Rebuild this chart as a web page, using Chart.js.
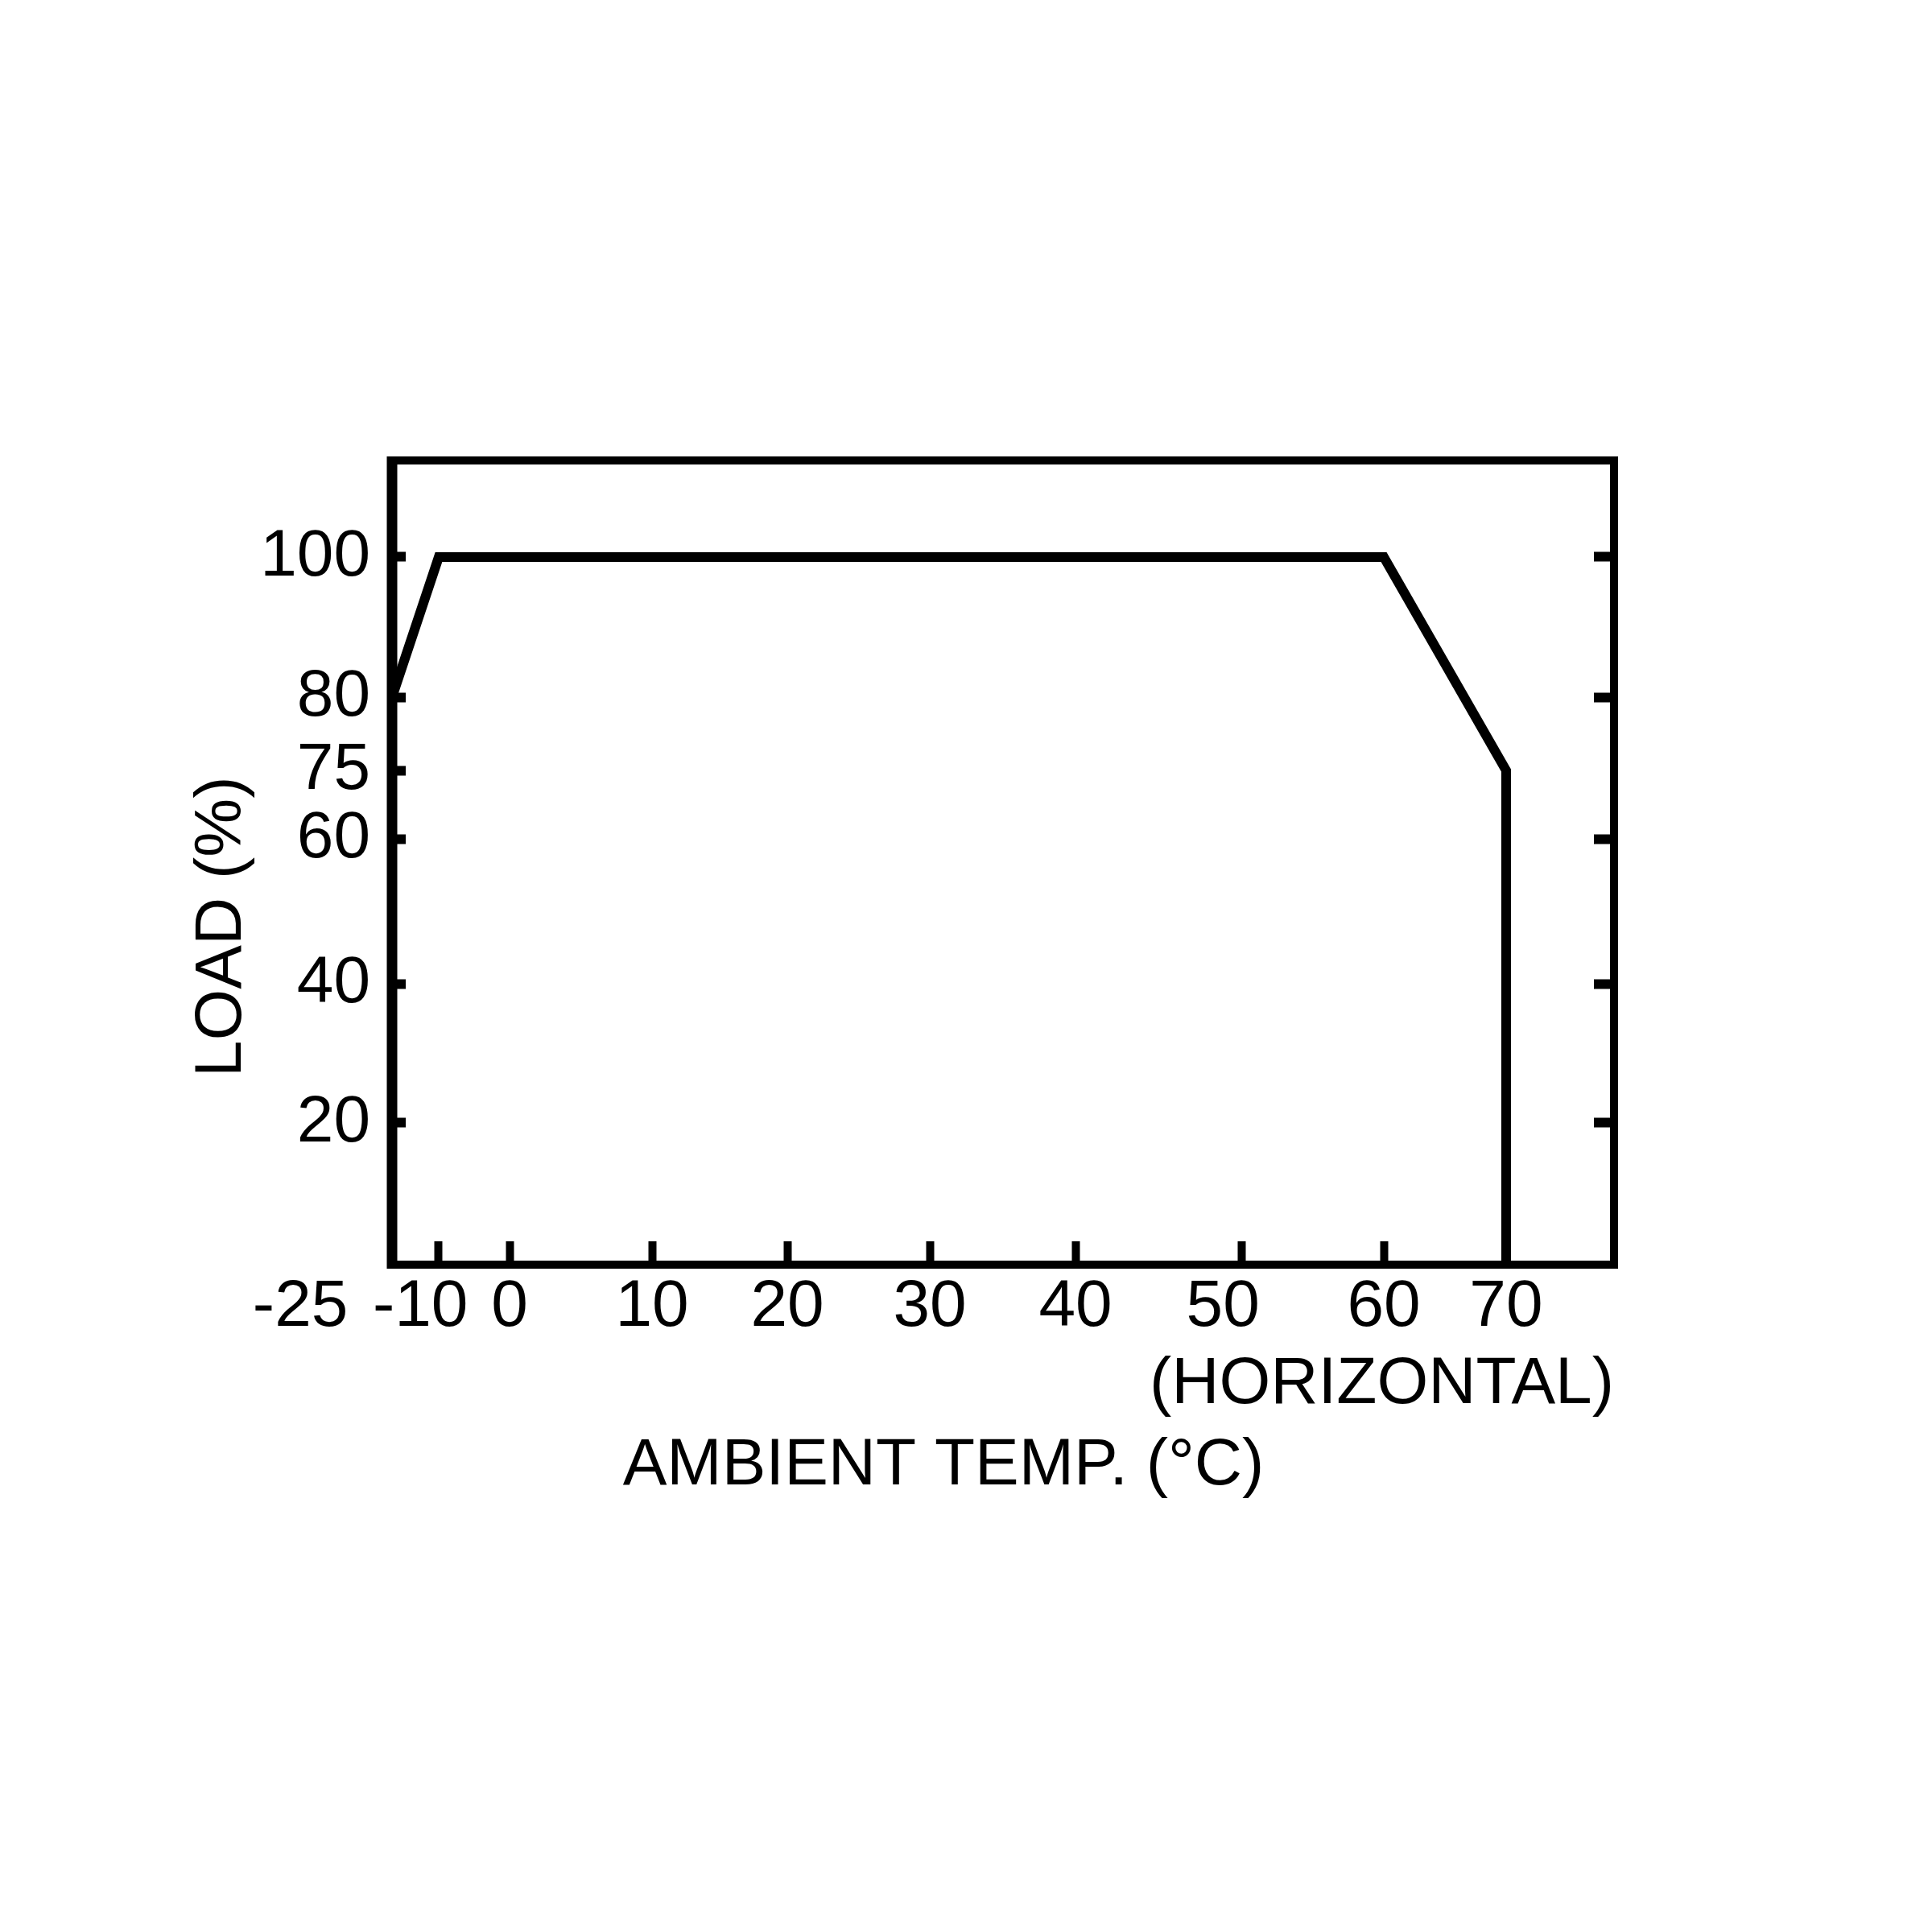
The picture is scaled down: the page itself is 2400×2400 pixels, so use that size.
<!DOCTYPE html>
<html>
<head>
<meta charset="utf-8">
<title>Derating curve</title>
<script src="https://cdn.jsdelivr.net/npm/chart.js@4.4.1/dist/chart.umd.min.js"></script>
<style>
  html, body { margin: 0; padding: 0; background: #fff; }
  canvas { display: block; }
</style>
</head>
<body>
<canvas id="derating" width="2400" height="2400"></canvas>
<script>
// Derating curve (load vs ambient temperature)
const tempC = [-25, -10, 60, 70, 70];
const loadPct = [80, 100, 100, 75, 0];

// Values printed on the axes
const xTicks = [-25, -10, 0, 10, 20, 30, 40, 50, 60, 70];
const yTicks = [20, 40, 60, 75, 80, 100];
const yRightTicks = [20, 40, 60, 80, 100];

// Axis titles
const xTitle = 'AMBIENT TEMP. (°C)';
const xSubTitle = '(HORIZONTAL)';
const yTitle = 'LOAD (%)';

// The printed axes are not evenly spaced.
// Each entry: [axis value, fraction of the axis length]
const AXIS_STRETCH = {
    x: [[-25, 0], [-10, 0.0382], [0, 0.0962], [10, 0.2128], [20, 0.3235], [30, 0.4401],
        [40, 0.5593], [50, 0.6950], [60, 0.8116], [70, 0.9117], [78, 1]],
    y: [[0, 0], [20, 0.1762], [40, 0.3493], [60, 0.5295], [75, 0.6146], [80, 0.7057],
        [100, 0.8799], [114, 1]]
};

// labels that sit a little left of their tick in the original (in spaces)
const labelNudge = { '-25': 10, '-10': 2, '50': 2 };

// Piecewise linear scale
class StretchScale extends Chart.LinearScale {
    toDecimal(v) {
        const pts = AXIS_STRETCH[this.axis];
        let i = 1;
        while (i < pts.length - 1 && v > pts[i][0]) i++;
        const [v0, f0] = pts[i - 1];
        const [v1, f1] = pts[i];
        return f0 + (v - v0) * (f1 - f0) / (v1 - v0);
    }
    fromDecimal(d) {
        const pts = AXIS_STRETCH[this.axis];
        let i = 1;
        while (i < pts.length - 1 && d > pts[i][1]) i++;
        const [v0, f0] = pts[i - 1];
        const [v1, f1] = pts[i];
        return v0 + (d - f0) * (v1 - v0) / (f1 - f0);
    }
    getPixelForValue(value) {
        return value === null ? NaN : this.getPixelForDecimal(this.toDecimal(value));
    }
    getValueForPixel(pixel) {
        return this.fromDecimal(this.getDecimalForPixel(pixel));
    }
}
StretchScale.id = 'stretch';
StretchScale.defaults = {};
Chart.register(StretchScale);

// Box around the plot area (left side drawn a bit heavier, as in the original)
const framePlugin = {
    id: 'frame',
    beforeDatasetsDraw(chart) {
        const { ctx, chartArea: a } = chart;
        ctx.save();
        ctx.strokeStyle = '#000';
        ctx.lineWidth = 10;
        ctx.strokeRect(a.left, a.top, a.right - a.left, a.bottom - a.top);
        ctx.lineWidth = 13;
        ctx.beginPath();
        ctx.moveTo(a.left, a.top - 5);
        ctx.lineTo(a.left, a.bottom + 5);
        ctx.stroke();
        ctx.restore();
    }
};

Chart.defaults.font.family = '"Liberation Sans", Arial, Helvetica, sans-serif';
Chart.defaults.font.size = 82;
Chart.defaults.color = '#000';

const tickGrid = (len, width) => ({
    display: true,
    drawOnChartArea: false,
    drawTicks: true,
    tickLength: -len,
    tickWidth: width,
    tickColor: '#000'
});

new Chart(document.getElementById('derating'), {
    type: 'line',
    data: {
        datasets: [{
            data: tempC.map((t, i) => ({ x: t, y: loadPct[i] })),
            borderColor: '#000',
            borderWidth: 12,
            borderJoinStyle: 'miter',
            pointRadius: 0,
            fill: false,
            tension: 0,
            clip: false
        }]
    },
    options: {
        responsive: false,
        animation: false,
        devicePixelRatio: 1,
        layout: { padding: { top: 572, right: 56, bottom: 0, left: 0 } },
        plugins: {
            legend: { display: false },
            tooltip: { enabled: false },
            title: {
                display: true,
                position: 'bottom',
                text: xTitle,
                color: '#000',
                font: { size: 82, weight: 'normal' },
                padding: { top: 0, bottom: 529 }
            }
        },
        scales: {
            x: {
                type: 'stretch',
                position: 'bottom',
                min: -25,
                max: 78,
                bounds: 'data',
                afterBuildTicks: (s) => { s.ticks = xTicks.map(v => ({ value: v })); },
                afterFit: (s) => { s.height = 201.6; },
                border: { display: false },
                grid: tickGrid(29, 10),
                ticks: {
                    autoSkip: false,
                    maxRotation: 0,
                    minRotation: 0,
                    padding: 33,
                    color: '#000',
                    callback: (v) => String(v) + ' '.repeat(labelNudge[v] || 0)
                },
                title: {
                    display: true,
                    text: xSubTitle,
                    align: 'end',
                    color: '#000',
                    padding: { top: 0, bottom: 3 }
                }
            },
            y: {
                type: 'stretch',
                position: 'left',
                min: 0,
                max: 114,
                bounds: 'data',
                afterBuildTicks: (s) => { s.ticks = yTicks.map(v => ({ value: v })); },
                afterFit: (s) => { s.width = 487; },
                border: { display: false },
                grid: tickGrid(17, 12),
                ticks: { autoSkip: false, padding: 44, color: '#000' },
                title: {
                    display: true,
                    text: yTitle + ' '.repeat(7),
                    color: '#000',
                    padding: { top: 227, bottom: 0 }
                }
            },
            y2: {
                type: 'stretch',
                position: 'right',
                min: 0,
                max: 114,
                bounds: 'data',
                afterBuildTicks: (s) => { s.ticks = yRightTicks.map(v => ({ value: v })); },
                afterFit: (s) => { s.width = 339; },
                border: { display: false },
                grid: tickGrid(25, 12),
                ticks: { display: false }
            }
        }
    },
    plugins: [framePlugin]
});
</script>
</body>
</html>
